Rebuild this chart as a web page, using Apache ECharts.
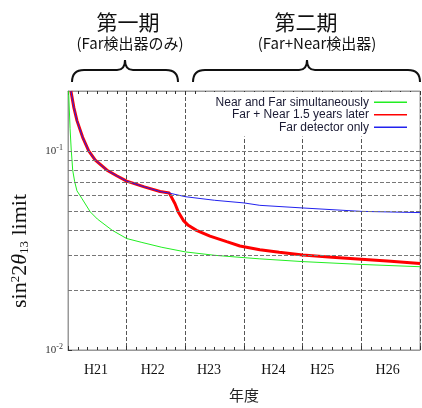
<!DOCTYPE html>
<html>
<head>
<meta charset="utf-8">
<script src="https://cdn.jsdelivr.net/npm/echarts@6/dist/echarts.min.js"></script>
<style>html,body{margin:0;padding:0;background:#fff}#c{width:422px;height:408px}</style>
</head>
<body>
<div id="c"></div>
<script>
// x = years elapsed since start of H21 (0..6)
const fiscalYears = ['H21', 'H22', 'H23', 'H24', 'H25', 'H26'];
const seriesNames = ['Near and Far simultaneously', 'Far + Near 1.5 years later', 'Far detector only'];

const nearFarSimul = [
  [0.01, 0.2], [0.035, 0.13], [0.056, 0.1], [0.068, 0.09], [0.08, 0.08], [0.114, 0.07],
  [0.153, 0.063], [0.2, 0.06], [0.24, 0.0575], [0.38, 0.0494], [0.5, 0.0455], [0.75, 0.04],
  [1.0, 0.0363], [1.26, 0.0347], [1.6, 0.0328], [2.0, 0.0311], [2.5, 0.0299], [3.0, 0.0291],
  [3.27, 0.0287], [4.0, 0.0278], [5.0, 0.0269], [6.0, 0.0262]
];
const farThenNear = [
  [0.05, 0.2], [0.1, 0.165], [0.153, 0.142], [0.25, 0.117], [0.353, 0.1], [0.465, 0.09],
  [0.665, 0.08], [0.83, 0.075], [1.0, 0.0705], [1.3, 0.066], [1.57, 0.0625], [1.727, 0.0614],
  [1.824, 0.0543], [1.88, 0.0494], [1.965, 0.0448], [2.05, 0.0423], [2.19, 0.0399],
  [2.42, 0.0373], [2.705, 0.035], [2.93, 0.0333], [3.27, 0.0319], [3.6, 0.031], [4.0, 0.030],
  [4.5, 0.0292], [5.0, 0.0286], [5.5, 0.0279], [6.0, 0.0272]
];
const farOnly = [
  [0.05, 0.2], [0.1, 0.165], [0.153, 0.142], [0.25, 0.117], [0.353, 0.1], [0.465, 0.09],
  [0.665, 0.08], [0.83, 0.075], [1.0, 0.0705], [1.3, 0.066], [1.57, 0.0625], [1.727, 0.0614],
  [2.0, 0.0589], [2.5, 0.0565], [3.0, 0.0548], [3.27, 0.0533], [4.0, 0.0517], [5.0, 0.0497],
  [6.0, 0.049]
];
const yGridValues = [0.02, 0.03, 0.04, 0.05, 0.06, 0.07, 0.08, 0.09, 0.1];

// label fine-shift (style only)
const labelShift = [1.3, 3.3, 5.7, 0, 9.7, 3];

const chart = echarts.init(document.getElementById('c'));
const rich = {};
labelShift.forEach((d, i) => {
  rich['s' + i] = { fontFamily: 'Liberation Serif', fontSize: 14, color: '#111', padding: [0, 2 * d, 0, 0] };
});

function brace(x0, x1, tip, yEnd, yBar, yTip) {
  const r = 12, t = 8, s = { stroke: '#111', lineWidth: 2, fill: null };
  return [
    { type: 'bezierCurve', shape: { x1: x0, y1: yEnd, cpx1: x0, cpy1: yBar, x2: x0 + r, y2: yBar }, style: s },
    { type: 'line', shape: { x1: x0 + r, y1: yBar, x2: tip - t, y2: yBar }, style: s },
    { type: 'bezierCurve', shape: { x1: tip - t, y1: yBar, cpx1: tip, cpy1: yBar, x2: tip, y2: yTip }, style: s },
    { type: 'bezierCurve', shape: { x1: tip, y1: yTip, cpx1: tip, cpy1: yBar, x2: tip + t, y2: yBar }, style: s },
    { type: 'line', shape: { x1: tip + t, y1: yBar, x2: x1 - r, y2: yBar }, style: s },
    { type: 'bezierCurve', shape: { x1: x1 - r, y1: yBar, cpx1: x1, cpy1: yBar, x2: x1, y2: yEnd }, style: s }
  ];
}

const textEls = [
  { type: 'text', x: 128, y: 22, style: { text: '第一期', fontFamily: 'Noto Sans CJK JP', fontSize: 21, fill: '#111', align: 'center', verticalAlign: 'middle' } },
  { type: 'text', x: 130, y: 43, style: { text: '(Far検出器のみ)', fontFamily: 'Noto Sans CJK JP', fontSize: 15, fill: '#111', align: 'center', verticalAlign: 'middle' } },
  { type: 'text', x: 306, y: 22, style: { text: '第二期', fontFamily: 'Noto Sans CJK JP', fontSize: 21, fill: '#111', align: 'center', verticalAlign: 'middle' } },
  { type: 'text', x: 317, y: 43, style: { text: '(Far+Near検出器)', fontFamily: 'Noto Sans CJK JP', fontSize: 15, fill: '#111', align: 'center', verticalAlign: 'middle' } },
  { type: 'text', x: 20, y: 251, rotation: Math.PI / 2,
    style: {
      text: 'sin{sup|2}2{th|θ}{sub|13} limit', fontFamily: 'Liberation Serif', fontSize: 22, fill: '#111',
      align: 'center', verticalAlign: 'middle',
      rich: {
        th: { fontFamily: 'Liberation Serif', fontSize: 22, fontStyle: 'italic', fill: '#111' },
        sup: { fontFamily: 'Liberation Serif', fontSize: 13, fill: '#111', verticalAlign: 'top', padding: [0, 0, 9, 0] },
        sub: { fontFamily: 'Liberation Serif', fontSize: 13, fill: '#111', verticalAlign: 'bottom', padding: [9, 0, 0, 0] }
      }
    } }
];

chart.setOption({
  animation: false,
  backgroundColor: '#fff',
  grid: { left: 68, right: 2, top: 91, bottom: 56, show: true, borderColor: '#999', borderWidth: 1 },
  legend: {
    orient: 'vertical', align: 'right', right: 3, top: 92,
    padding: [4, 12, 3, 17], backgroundColor: '#fff',
    itemWidth: 33, itemHeight: 1.5, itemGap: 0,
    icon: 'rect', itemStyle: { borderWidth: 0 },
    textStyle: { fontFamily: 'Liberation Sans', fontSize: 12, color: '#1a1a33', lineHeight: 12.5 },
    data: seriesNames
  },
  xAxis: [
    {
      type: 'value', min: 0, max: 6, interval: 1, position: 'bottom',
      axisLine: { show: true, lineStyle: { color: '#999' } },
      axisTick: { show: true, inside: true, length: 4, lineStyle: { color: '#333' } },
      minorTick: { show: true, splitNumber: 6, length: 3, lineStyle: { color: '#333' } },
      axisLabel: { show: false },
      splitLine: { show: true, lineStyle: { type: [4, 2], color: '#555' } }
    },
    {
      type: 'value', min: 0, max: 6, interval: 1, position: 'top',
      axisLine: { show: true, lineStyle: { color: '#999' } },
      axisTick: { show: true, inside: true, length: 4, lineStyle: { color: '#333' } },
      minorTick: { show: true, splitNumber: 6, length: 3, lineStyle: { color: '#333' } },
      axisLabel: { show: false }, splitLine: { show: false }
    },
    {
      type: 'category', data: fiscalYears, position: 'bottom', boundaryGap: true,
      axisLine: { show: false }, axisTick: { show: false }, splitLine: { show: false },
      axisLabel: { interval: 0, margin: 13, formatter: (v, i) => '{s' + i + '|' + v + '}', rich: rich },
      name: '年度', nameLocation: 'middle', nameGap: 38,
      nameTextStyle: { fontFamily: 'Noto Sans CJK JP', fontSize: 15, color: '#222' }
    }
  ],
  yAxis: {
    type: 'log', logBase: 10, min: 0.01, max: 0.2,
    axisLine: { show: true, lineStyle: { color: '#999' } },
    axisTick: { show: true, inside: true, length: 4, lineStyle: { color: '#333' } },
    splitLine: { show: false },
    axisLabel: {
      showMaxLabel: false, margin: 5,
      formatter: v => '{b|10}{s|' + Math.round(Math.log10(v)) + '}',
      rich: {
        b: { fontFamily: 'Liberation Serif', fontSize: 11, color: '#333' },
        s: { fontFamily: 'Liberation Serif', fontSize: 8, color: '#333', verticalAlign: 'top', padding: [0, 0, 6, 0] }
      }
    }
  },
  series: [
    {
      name: seriesNames[0], type: 'line', data: nearFarSimul, showSymbol: false, symbol: 'none',
      lineStyle: { color: '#22ee22', width: 1 }, itemStyle: { color: '#22ee22' },
      markLine: {
        silent: true, symbol: ['none', 'none'], label: { show: false },
        lineStyle: { type: [4, 2], color: '#777', width: 1 },
        data: yGridValues.map(v => ({ yAxis: v }))
      }
    },
    {
      name: seriesNames[1], type: 'line', data: farThenNear, showSymbol: false, symbol: 'none',
      lineStyle: { color: '#ff0000', width: 3 }, itemStyle: { color: '#ff0000' }
    },
    {
      name: seriesNames[2], type: 'line', data: farOnly, showSymbol: false, symbol: 'none',
      lineStyle: { color: '#2222ee', width: 1 }, itemStyle: { color: '#2222ee' }
    }
  ],
  graphic: textEls.concat(brace(72, 178, 125, 82, 70, 60), brace(193, 420, 307, 82, 70, 60))
});
</script>
</body>
</html>
